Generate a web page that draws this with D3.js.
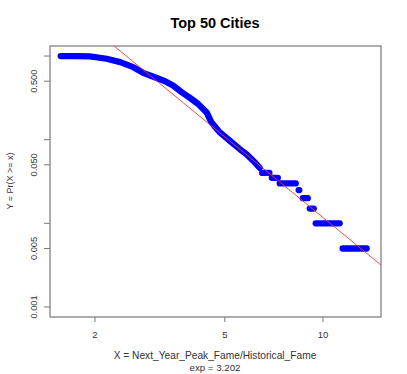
<!DOCTYPE html>
<html>
<head>
<meta charset="utf-8">
<script src="https://cdn.jsdelivr.net/npm/d3@7"></script>
<style>
  body { margin: 0; background: #fff; }
  text { font-family: "Liberation Sans", Arial, Helvetica, sans-serif; }
</style>
</head>
<body>
<script>
const width = 407;
const height = 374;

// smooth part of the CCDF
const curveX = [1.57, 1.74, 1.93, 2.17, 2.39, 2.62, 2.81, 3.05, 3.28, 3.47, 3.69, 3.91, 4.14, 4.40, 4.55, 4.83, 5.18, 5.56, 5.83, 6.11, 6.40];
const curveY = [1.0, 0.995, 0.989, 0.928, 0.845, 0.736, 0.630, 0.558, 0.500, 0.444, 0.369, 0.316, 0.268, 0.212, 0.161, 0.122, 0.097, 0.077, 0.067, 0.056, 0.046];

// flat steps in the tail
const stepY = [0.040, 0.035, 0.030, 0.025, 0.020, 0.015, 0.010, 0.005];
const stepFrom = [6.51, 6.97, 7.37, 8.42, 8.67, 9.11, 9.50, 11.49];
const stepTo = [6.85, 7.27, 8.25, 8.46, 8.98, 9.37, 11.25, 13.61];

// fitted power law
const fitExp = 3.202;
const fitC = 18.7;

const xTicks = [2, 5, 10];
const yTicks = [0.001, 0.005, 0.01, 0.05, 0.1, 0.5, 1];
const yLabels = [0.001, 0.005, 0.05, 0.5];

const box = { left: 50, right: 381, top: 46, bottom: 317 };

var svg = d3.select("body")
  .append("svg")
  .attr("width", width)
  .attr("height", height);

var x = d3.scaleLog().domain([1.456, 15.06]).range([box.left, box.right]);
var y = d3.scaleLog().domain([Math.pow(10, -3.12), Math.pow(10, 0.12)]).range([box.bottom, box.top]);

svg.append("clipPath")
  .attr("id", "plotClip")
  .append("rect")
  .attr("x", box.left)
  .attr("y", box.top)
  .attr("width", box.right - box.left)
  .attr("height", box.bottom - box.top);

// title
svg.append("text")
  .attr("x", 215)
  .attr("y", 28)
  .attr("text-anchor", "middle")
  .style("font-size", "14.5px")
  .style("font-weight", "bold")
  .attr("fill", "#000")
  .text("Top 50 Cities");

// blue data
var line = d3.line()
  .x(function(d, i) { return x(curveX[i]); })
  .y(function(d, i) { return y(curveY[i]); });

svg.append("path")
  .datum(curveX)
  .attr("d", line)
  .attr("fill", "none")
  .attr("stroke", "#0000ff")
  .attr("stroke-width", 6.3)
  .attr("stroke-linecap", "round")
  .attr("stroke-linejoin", "round");

svg.selectAll("line.step")
  .data(stepY)
  .enter()
  .append("line")
  .attr("class", "step")
  .attr("x1", function(d, i) { return x(stepFrom[i]); })
  .attr("x2", function(d, i) { return x(stepTo[i]); })
  .attr("y1", function(d) { return y(d); })
  .attr("y2", function(d) { return y(d); })
  .attr("stroke", "#0000ff")
  .attr("stroke-width", 6.3)
  .attr("stroke-linecap", "round");

// red fit line
var xd = x.domain();
svg.append("line")
  .attr("clip-path", "url(#plotClip)")
  .attr("x1", x(xd[0]))
  .attr("y1", y(fitC * Math.pow(xd[0], -fitExp)))
  .attr("x2", x(xd[1]))
  .attr("y2", y(fitC * Math.pow(xd[1], -fitExp)))
  .attr("stroke", "#f03a3a")
  .attr("stroke-width", 0.9);

// frame
svg.append("rect")
  .attr("x", box.left)
  .attr("y", box.top)
  .attr("width", box.right - box.left)
  .attr("height", box.bottom - box.top)
  .attr("fill", "none")
  .attr("stroke", "#777")
  .attr("stroke-width", 1.2);

// left axis
svg.selectAll("line.ytick")
  .data(yTicks)
  .enter()
  .append("line")
  .attr("class", "ytick")
  .attr("x1", box.left - 6)
  .attr("x2", box.left)
  .attr("y1", function(d) { return y(d); })
  .attr("y2", function(d) { return y(d); })
  .attr("stroke", "#777");

svg.selectAll("text.ylab")
  .data(yLabels)
  .enter()
  .append("text")
  .attr("class", "ylab")
  .attr("transform", function(d) { return "translate(37," + y(d) + ") rotate(-90)"; })
  .attr("text-anchor", "middle")
  .style("font-size", "9.3px")
  .attr("fill", "#333")
  .text(function(d) { return d.toFixed(3); });

// bottom axis
svg.selectAll("line.xtick")
  .data(xTicks)
  .enter()
  .append("line")
  .attr("class", "xtick")
  .attr("x1", function(d) { return x(d); })
  .attr("x2", function(d) { return x(d); })
  .attr("y1", box.bottom)
  .attr("y2", box.bottom + 5)
  .attr("stroke", "#777");

svg.selectAll("text.xlab")
  .data(xTicks)
  .enter()
  .append("text")
  .attr("class", "xlab")
  .attr("x", function(d) { return x(d); })
  .attr("y", 338)
  .attr("text-anchor", "middle")
  .style("font-size", "9.5px")
  .attr("fill", "#333")
  .text(function(d) { return d; });

// axis titles
svg.append("text")
  .attr("x", 215)
  .attr("y", 359)
  .attr("text-anchor", "middle")
  .style("font-size", "10.2px")
  .attr("fill", "#333")
  .text("X = Next_Year_Peak_Fame/Historical_Fame");

svg.append("text")
  .attr("x", 215)
  .attr("y", 370.5)
  .attr("text-anchor", "middle")
  .style("font-size", "9.7px")
  .attr("fill", "#333")
  .text("exp = 3.202");

svg.append("text")
  .attr("transform", "translate(12.5,181) rotate(-90)")
  .attr("text-anchor", "middle")
  .style("font-size", "9px")
  .attr("fill", "#333")
  .text("Y = Pr(X >= x)");
</script>
</body>
</html>
